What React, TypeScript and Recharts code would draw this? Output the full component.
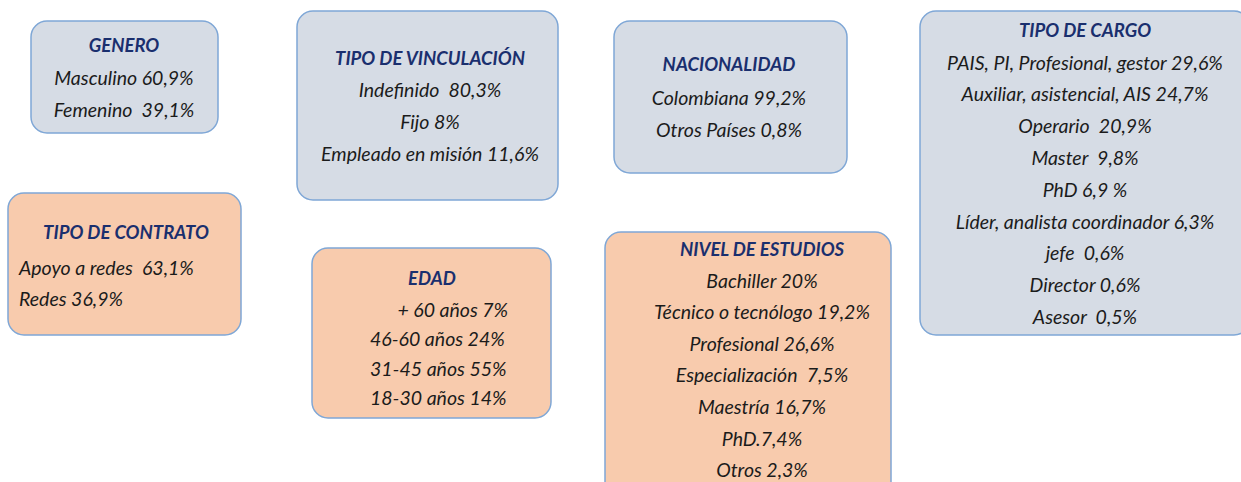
import { Surface, Rectangle } from "recharts";

const generoTitle = "GENERO";
const generoItems = ["Masculino 60,9%", "Femenino  39,1%"];

const vinculacionTitle = "TIPO DE VINCULACIÓN";
const vinculacionItems = ["Indefinido  80,3%", "Fijo 8%", "Empleado en misión 11,6%"];

const nacionalidadTitle = "NACIONALIDAD";
const nacionalidadItems = ["Colombiana 99,2%", "Otros Países 0,8%"];

const cargoTitle = "TIPO DE CARGO";
const cargoItems = [
  "PAIS, PI, Profesional, gestor 29,6%",
  "Auxiliar, asistencial, AIS 24,7%",
  "Operario  20,9%",
  "Master  9,8%",
  "PhD 6,9 %",
  "Líder, analista coordinador 6,3%",
  "jefe  0,6%",
  "Director 0,6%",
  "Asesor  0,5%",
];

const contratoTitle = "TIPO DE CONTRATO";
const contratoItems = ["Apoyo a redes  63,1%", "Redes 36,9%"];

const edadTitle = "EDAD";
const edadItems = ["      + 60 años 7%", "46-60 años 24%", "31-45 años 55%", "18-30 años 14%"];

const estudiosTitle = "NIVEL DE ESTUDIOS";
const estudiosItems = [
  "Bachiller 20%",
  "Técnico o tecnólogo 19,2%",
  "Profesional 26,6%",
  "Especialización  7,5%",
  "Maestría 16,7%",
  "PhD.7,4%",
  "Otros 2,3%",
];

const BLUE = "#d6dce5";
const ORANGE = "#f8cbad";
const BORDER = "#7fa7d6";
const TITLE = "#1a2f6e";
const INK = "#1b1b1b";
const FONT = "Lato, 'Open Sans', sans-serif";

type Box = {
  title: string;
  items: string[];
  fill: string;
  x: number;
  y: number;
  w: number;
  h: number;
  titleY: number;
  titleX?: number;
  firstY: number;
  step: number;
  align: "middle" | "start";
  textX: number;
};

const boxes: Box[] = [
  { title: generoTitle, items: generoItems, fill: BLUE, x: 31, y: 21, w: 187, h: 112, titleY: 45, firstY: 77, step: 32, align: "middle", textX: 124 },
  { title: vinculacionTitle, items: vinculacionItems, fill: BLUE, x: 297, y: 11, w: 261, h: 189, titleY: 58, firstY: 89, step: 32, align: "middle", textX: 430 },
  { title: nacionalidadTitle, items: nacionalidadItems, fill: BLUE, x: 614, y: 21, w: 233, h: 152, titleY: 64, firstY: 97, step: 32, align: "middle", textX: 729 },
  { title: cargoTitle, items: cargoItems, fill: BLUE, x: 920, y: 11, w: 330, h: 324, titleY: 30, firstY: 62, step: 31.8, align: "middle", textX: 1085 },
  { title: contratoTitle, items: contratoItems, fill: ORANGE, x: 8, y: 193, w: 233, h: 142, titleY: 232, titleX: 126, firstY: 267, step: 31, align: "start", textX: 19 },
  { title: edadTitle, items: edadItems, fill: ORANGE, x: 312, y: 248, w: 239, h: 170, titleY: 278, titleX: 432, firstY: 309, step: 29.5, align: "start", textX: 370 },
  { title: estudiosTitle, items: estudiosItems, fill: ORANGE, x: 605, y: 232, w: 286, h: 270, titleY: 249, firstY: 280, step: 31.6, align: "middle", textX: 762 },
];

export default function App() {
  return (
    <div style={{ position: "absolute", left: 0, top: 0, background: "#fff" }}>
      <Surface width={1241} height={482}>
        {boxes.map((b) => (
          <g key={b.title}>
            <Rectangle
              x={b.x}
              y={b.y}
              width={b.w}
              height={b.h}
              radius={16}
              fill={b.fill}
              stroke={BORDER}
              strokeWidth={1.5}
              isAnimationActive={false}
            />
            <text
              x={b.titleX ?? b.textX}
              y={b.titleY}
              textAnchor="middle"
              dominantBaseline="central"
              style={{ fontFamily: FONT, fontSize: 18.5, fontWeight: 700, fontStyle: "italic", fill: TITLE }}
            >
              {b.title}
            </text>
            {b.items.map((t, i) => (
              <text
                key={t}
                x={b.textX}
                y={b.firstY + i * b.step}
                textAnchor={b.align}
                dominantBaseline="central"
                style={{ fontFamily: FONT, fontSize: 19.5, fontStyle: "italic", fill: INK, whiteSpace: "pre" }}
              >
                {t}
              </text>
            ))}
          </g>
        ))}
      </Surface>
    </div>
  );
}
